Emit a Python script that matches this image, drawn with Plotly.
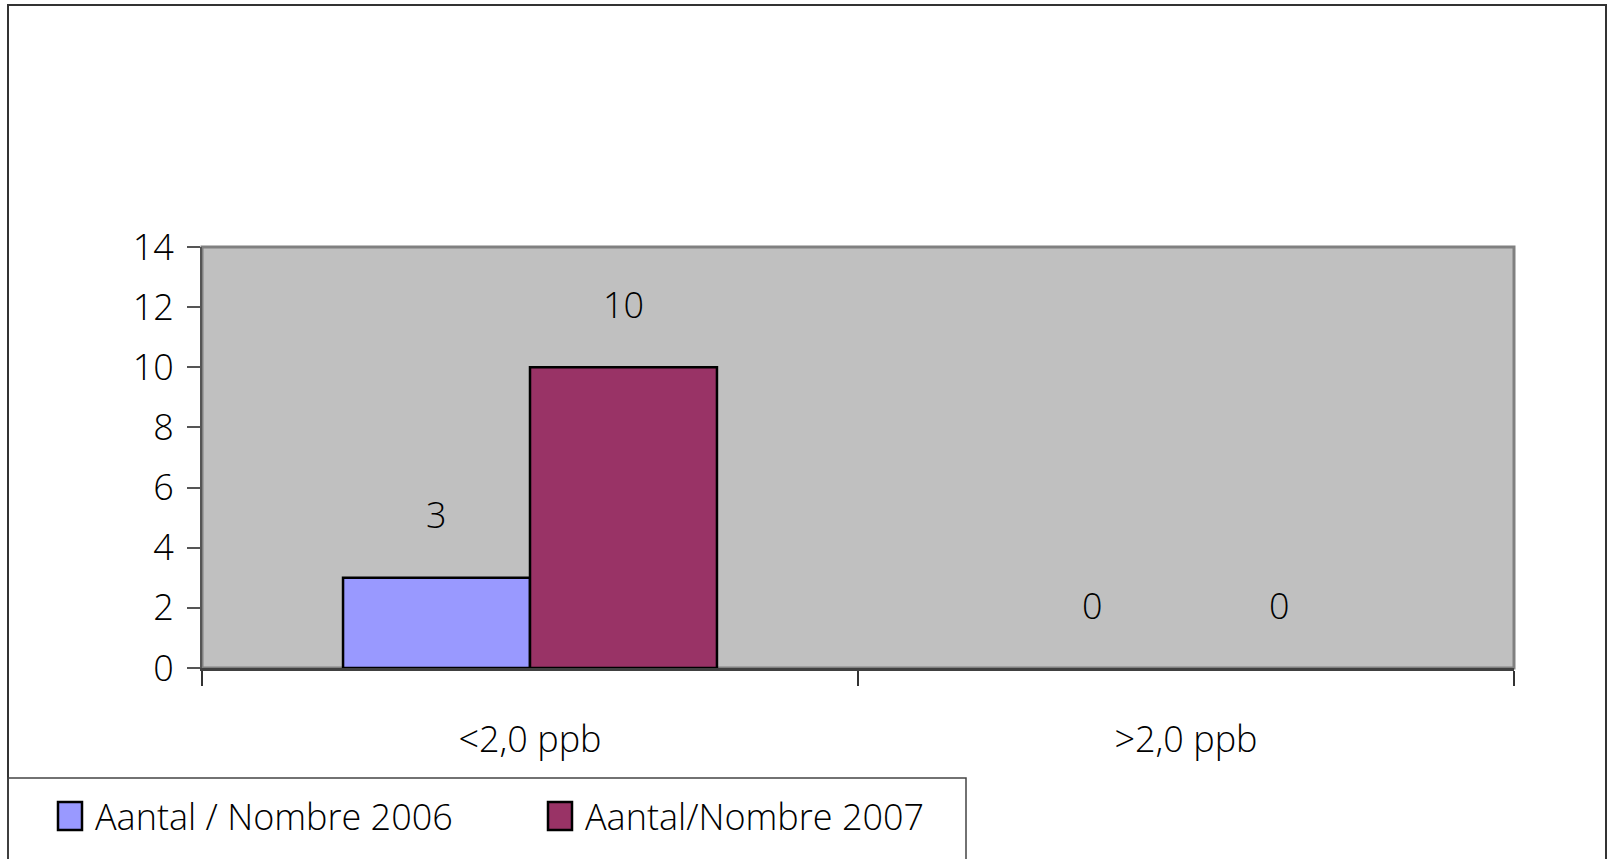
import plotly.graph_objects as go

# Data
categories = ['<2,0 ppb', '>2,0 ppb']
series_names = ['Aantal / Nombre 2006', 'Aantal/Nombre 2007']
values_2006 = [3, 0]
values_2007 = [10, 0]
series_values = [values_2006, values_2007]
series_colors = ['#9999FF', '#993366']
y_ticks = [0, 2, 4, 6, 8, 10, 12, 14]

FONT = 'Open Sans'
FSIZE = 36
WEIGHT = 300

# Plot area in pixels (page is 1607 x 859)
W, H = 1607, 859
L, R, T, B = 202, 1514, 247, 668
BARGAP = 0.43


def px_x(p):
    return (p - L) / (R - L)


def px_y(p):
    return (B - p) / (B - T)


fig = go.Figure()
for name, vals, col in zip(series_names, series_values, series_colors):
    fig.add_trace(go.Bar(x=categories, y=vals, name=name,
                         marker=dict(color=col,
                                     line=dict(color='black',
                                               width=[2.5 if v > 0 else 0 for v in vals])),
                         showlegend=False, hoverinfo='skip'))

# Data labels, set well above each bar like the original
n = len(series_names)
bw = (1 - BARGAP) / n
annotations = []
for i, vals in enumerate(series_values):
    off = -(1 - BARGAP) / 2 + bw * (i + 0.5)
    for j, v in enumerate(vals):
        annotations.append(dict(x=j + off, y=v, xref='x', yref='y', text=str(v),
                                showarrow=False, yshift=63,
                                font=dict(family=FONT, size=FSIZE, color='black',
                                          weight=WEIGHT)))

# Hand-drawn legend at the bottom left
shapes = [
    # outer chart frame
    dict(type='rect', xref='paper', yref='paper', x0=px_x(8), x1=px_x(1606),
         y0=px_y(875), y1=px_y(5), line=dict(color='#333333', width=2), layer='below'),
    # plot area frame
    dict(type='rect', xref='paper', yref='paper', x0=0, x1=1, y0=0, y1=1,
         line=dict(color='#808080', width=3), layer='below'),
    # legend box
    dict(type='rect', xref='paper', yref='paper', x0=px_x(8), x1=px_x(966),
         y0=px_y(875), y1=px_y(778), line=dict(color='#444444', width=1.5)),
]
leg_sq = [58, 548]
leg_tx = [93, 583]
for name, col, sx, tx in zip(series_names, series_colors, leg_sq, leg_tx):
    shapes.append(dict(type='rect', xref='paper', yref='paper', x0=px_x(sx), x1=px_x(sx + 24),
                       y0=px_y(830), y1=px_y(802), fillcolor=col,
                       line=dict(color='black', width=2.5)))
    annotations.append(dict(x=px_x(tx), y=px_y(816), xref='paper', yref='paper',
                            xanchor='left', yanchor='middle', text=name, showarrow=False,
                            font=dict(family=FONT, size=FSIZE, color='black',
                                      weight=WEIGHT)))

fig.update_layout(
    width=W, height=H,
    margin=dict(l=L, r=W - R, t=T, b=H - B),
    paper_bgcolor='white', plot_bgcolor='#C0C0C0',
    barmode='group', bargap=BARGAP, bargroupgap=0,
    font=dict(family=FONT, size=FSIZE, color='black', weight=WEIGHT),
    shapes=shapes, annotations=annotations,
    showlegend=False,
)
fig.update_xaxes(type='category', range=[-0.5, 1.5], tickson='boundaries',
                 ticks='outside', ticklen=15, tickwidth=2, tickcolor='#333333',
                 showline=True, linecolor='#404040', linewidth=3,
                 showgrid=False, ticklabelstandoff=38)
fig.update_yaxes(range=[0, 14], tickvals=y_ticks, ticks='outside', ticklen=13,
                 tickwidth=2, tickcolor='#555555', showline=True, linecolor='#555555',
                 linewidth=2, showgrid=False, zeroline=False, ticklabelstandoff=6)

# drop the default page margin so the figure sits at the window corner
fig.write_html('out.html', config={'displayModeBar': False},
               post_script="document.body.style.margin='0';")
